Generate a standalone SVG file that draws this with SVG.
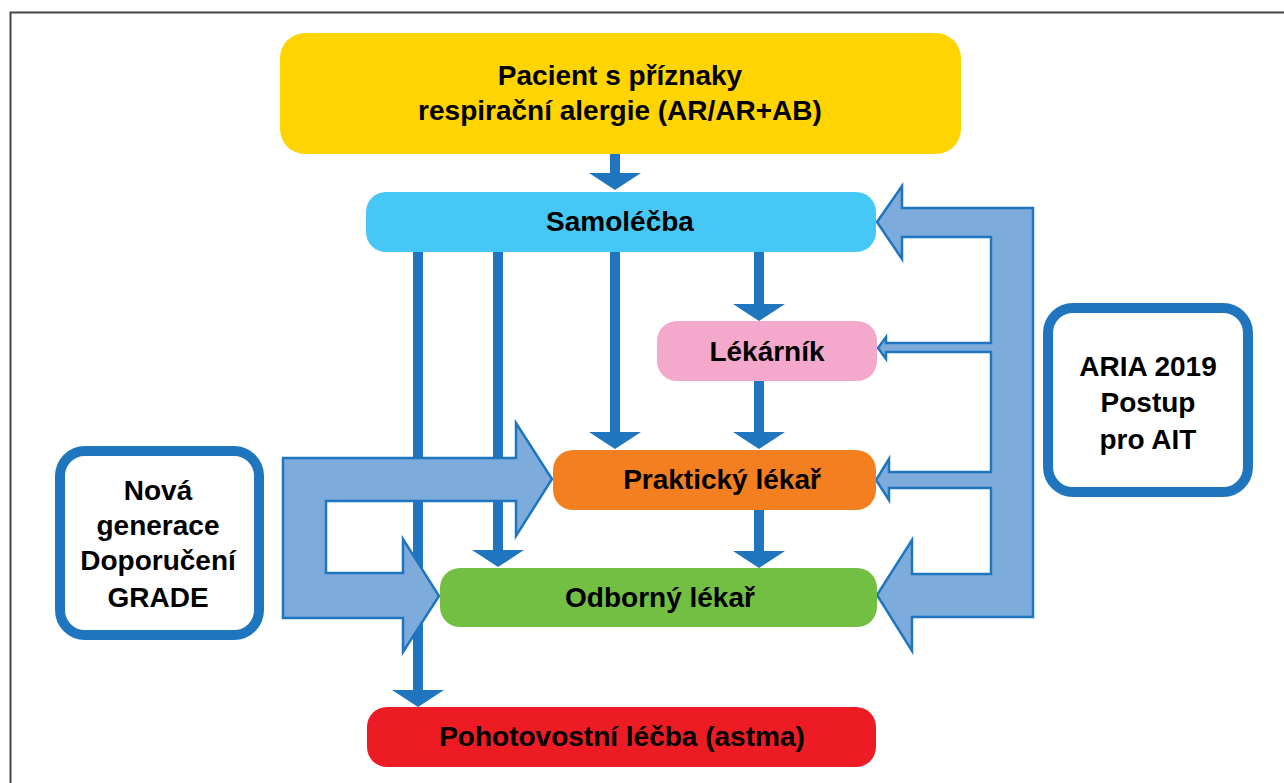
<svg xmlns="http://www.w3.org/2000/svg" width="1284" height="783" viewBox="0 0 1284 783">
<style>
.lbl{font-family:"Liberation Sans",Arial,sans-serif;font-weight:bold;font-size:28px;fill:#000;text-anchor:middle}
.side{font-family:"Liberation Sans",Arial,sans-serif;font-weight:bold;font-size:28px;fill:#000;text-anchor:middle}
.thin{stroke:#1F75BE;stroke-width:10;fill:none;marker-end:url(#ah)}
.big{fill:#7DABDC;stroke:#1F75BE;stroke-width:2.5;stroke-linejoin:miter}
.sbox{fill:#fff;stroke:#1F75BE;stroke-width:10}
</style>
<defs>
<marker id="ah" markerUnits="userSpaceOnUse" viewBox="0 0 17 52" markerWidth="17" markerHeight="52" refX="0" refY="26" orient="auto">
<path d="M0,0 L17,26 L0,52 Z" fill="#1F75BE"/>
</marker>
</defs>
<rect x="0" y="0" width="1284" height="783" fill="#fff"/>
<rect x="10.5" y="12.5" width="1300" height="800" fill="none" stroke="#444" stroke-width="2"/>

<g id="connectors">
<line class="thin" x1="615" y1="154" x2="615" y2="173"/>
<line class="thin" x1="418" y1="252" x2="418" y2="690"/>
<line class="thin" x1="498" y1="252" x2="498" y2="550"/>
<line class="thin" x1="615" y1="252" x2="615" y2="432"/>
<line class="thin" x1="759" y1="252" x2="759" y2="304"/>
<line class="thin" x1="759" y1="381" x2="759" y2="432"/>
<line class="thin" x1="759" y1="510" x2="759" y2="551"/>
<polygon class="big" points="283,458 516,458 516,423 552,479 516,536 516,501 326,501 326,573 403,573 403,539 439,596 403,652 403,618 283,618"/>
<polygon class="big" points="1033,208 902,208 902,186 877,222 902,259 902,237 991,237 991,343 886,343 886,337 878,348 886,359 886,352 991,352 991,472 889,472 889,459 876,480 889,500 889,488 991,488 991,574 912,574 912,540 877,595 912,651 912,617 1033,617"/>
</g>

<g id="node-pacient">
<rect x="280" y="33" width="681" height="121" rx="25" fill="#FFD400"/>
<text class="lbl" x="620" y="85">Pacient s příznaky</text>
<text class="lbl" x="620" y="120">respirační alergie (AR/AR+AB)</text>
</g>
<g id="node-samolecba">
<rect x="366" y="192" width="510" height="60" rx="20" fill="#45C8F5"/>
<text class="lbl" x="620" y="231">Samoléčba</text>
</g>
<g id="node-lekarnik">
<rect x="657" y="321" width="220" height="60" rx="20" fill="#F4A9CC"/>
<text class="lbl" x="767" y="361">Lékárník</text>
</g>
<g id="node-prakticky">
<rect x="553" y="450" width="323" height="60" rx="20" fill="#F47F20"/>
<text class="lbl" x="722" y="489">Praktický lékař</text>
</g>
<g id="node-odborny">
<rect x="440" y="568" width="437" height="59" rx="20" fill="#72BF44"/>
<text class="lbl" x="660" y="607">Odborný lékař</text>
</g>
<g id="node-pohotovostni">
<rect x="367" y="707" width="509" height="60" rx="20" fill="#ED1C24"/>
<text class="lbl" x="622" y="746">Pohotovostní léčba (astma)</text>
</g>
<g id="node-grade">
<rect class="sbox" x="60" y="451" width="199" height="184" rx="25"/>
<text class="side" x="158" y="500">Nová</text>
<text class="side" x="158" y="535">generace</text>
<text class="side" x="158" y="570">Doporučení</text>
<text class="side" x="158" y="607">GRADE</text>
</g>
<g id="node-aria">
<rect class="sbox" x="1048" y="308" width="200" height="184" rx="25"/>
<text class="side" x="1148" y="376">ARIA 2019</text>
<text class="side" x="1148" y="412">Postup</text>
<text class="side" x="1148" y="449">pro AIT</text>
</g>
</svg>
